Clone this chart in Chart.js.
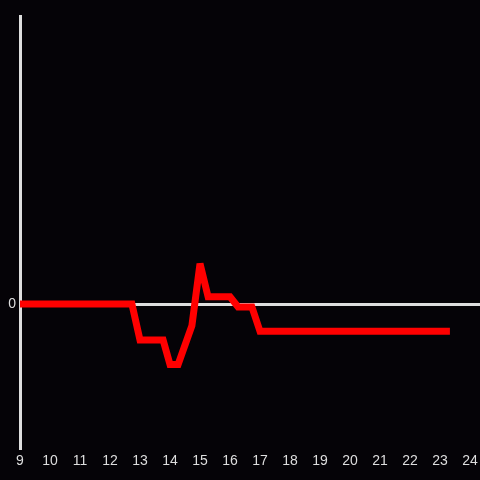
<!DOCTYPE html>
<html>
<head>
<meta charset="utf-8">
<script src="https://cdn.jsdelivr.net/npm/chart.js@4/dist/chart.umd.min.js"></script>
<style>
  html, body { margin: 0; padding: 0; background: #050307; }
  #wrap { width: 480px; height: 480px; }
</style>
</head>
<body>
<div id="wrap"><canvas id="lineChart" width="480" height="480"></canvas></div>
<script>
// hours of the day and the matching values
const hours = [9, 12.73, 13.0, 13.77, 14.0, 14.27, 14.73, 15.0, 15.27, 16.0, 16.27, 16.73, 17.0, 23.33];
const values = [0, 0, -0.25, -0.25, -0.42, -0.42, -0.15, 0.28, 0.05, 0.05, -0.02, -0.02, -0.19, -0.19];
const yTicks = [0];

const axisColor = '#dedede';
const ctx = document.getElementById('lineChart').getContext('2d');

// keep sharp corners from spiking out too far
const miterPlugin = {
  id: 'miter',
  beforeDatasetsDraw(chart) { chart.ctx.miterLimit = 2; }
};

const lineChart = new Chart(ctx, {
  type: 'line',
  data: {
    datasets: [{
      data: hours.map((h, i) => ({ x: h, y: values[i] })),
      borderColor: '#ff0000',
      borderWidth: 7,
      pointRadius: 0,
      tension: 0,
      fill: false
    }]
  },
  plugins: [miterPlugin],
  options: {
    responsive: false,
    animation: false,
    layout: { padding: { top: 16, right: 0, left: 0, bottom: 0 } },
    plugins: { legend: { display: false }, tooltip: { enabled: false } },
    scales: {
      x: {
        type: 'linear',
        min: 9,
        max: 24.333,
        afterBuildTicks: scale => {
          const t = [];
          for (let v = 9; v <= 24; v++) t.push({ value: v });
          scale.ticks = t;
        },
        afterFit: scale => {
          scale.height = 32;
          scale.paddingLeft = 0;
          scale.paddingRight = 0;
        },
        grid: { display: false, drawTicks: false },
        border: { display: false },
        ticks: {
          color: axisColor,
          padding: 5,
          maxRotation: 0,
          autoSkip: false,
          font: { family: 'Liberation Sans, Arial, sans-serif', size: 14 }
        }
      },
      y: {
        min: -1,
        max: 2,
        afterBuildTicks: scale => { scale.ticks = yTicks.map(v => ({ value: v })); },
        afterFit: scale => { scale.width = 20; },
        grid: { color: axisColor, lineWidth: 3, drawTicks: false },
        border: { display: true, color: axisColor, width: 3 },
        ticks: {
          color: axisColor,
          padding: 4,
          font: { family: 'Liberation Sans, Arial, sans-serif', size: 14 }
        }
      }
    }
  }
});
</script>
</body>
</html>
